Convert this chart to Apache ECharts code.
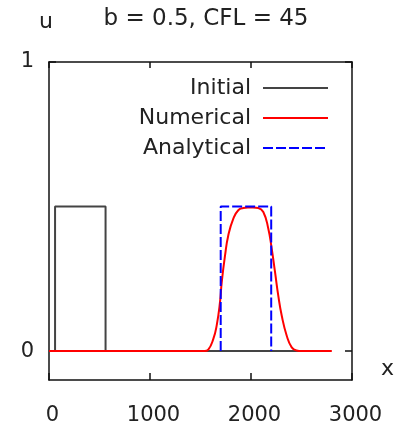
<!DOCTYPE html>
<html>
<head>
<meta charset="utf-8">
<script src="https://cdn.jsdelivr.net/npm/echarts@6/dist/echarts.min.js"></script>
<style>
  html, body { margin: 0; padding: 0; background: #fff; }
  #chart { width: 405px; height: 426px; }
</style>
</head>
<body>
<div id="chart"></div>
<script>
const seriesNames = ['Initial', 'Numerical', 'Analytical']

// initial square pulse
const initX = [0, 60, 60, 560, 560, 2500]
const initU = [0, 0, 0.5, 0.5, 0, 0]

// numerical solution
const numX = [0, 1540, 1577, 1627, 1660, 1693, 1710, 1743, 1775, 1825, 1874, 1924, 1970, 2020, 2072, 2122, 2171, 2205, 2238, 2270, 2304, 2353, 2403, 2452, 2500, 2800]
const numU = [0, 0, 0.005, 0.042, 0.088, 0.169, 0.238, 0.331, 0.4, 0.458, 0.487, 0.495, 0.497, 0.497, 0.495, 0.481, 0.424, 0.354, 0.273, 0.192, 0.123, 0.054, 0.013, 0.002, 0, 0]

// analytical (shifted pulse)
const anaX = [1700, 1700, 2200, 2200]
const anaU = [0, 0.5, 0.5, 0]

const xTicks = [0, 1000, 2000, 3000]
const yTicks = [0, 1]

const zip = (xs, ys) => xs.map((x, i) => [x, ys[i]])

const font = 'DejaVu Sans'
const axisColor = '#111'

const chart = echarts.init(document.getElementById('chart'))
const option = {
  animation: false,
  textStyle: { fontFamily: font },
  grid: { left: 49, top: 62, width: 303, height: 318 },
  title: {
    text: 'b = 0.5, CFL = 45',
    left: 201,
    textAlign: 'center',
    top: 3,
    textStyle: { fontFamily: font, fontSize: 23, fontWeight: 'normal', color: '#222' }
  },
  legend: {
    orient: 'vertical',
    align: 'right',
    right: 71,
    top: 72,
    itemWidth: 65,
    itemHeight: 14,
    itemGap: 8,
    data: seriesNames,
    itemStyle: { opacity: 0 },
    textStyle: { fontFamily: font, fontSize: 22, color: '#222', lineHeight: 22, padding: [0, 7, 0, 0] }
  },
  graphic: [
    { type: 'text', left: 39, top: 11, style: { text: 'u', font: '22px "DejaVu Sans"', fill: '#222' } },
    { type: 'text', left: 381, top: 358, style: { text: 'x', font: '22px "DejaVu Sans"', fill: '#222' } }
  ],
  xAxis: [
    {
      type: 'value', position: 'bottom', min: 0, max: 3000, interval: 1000,
      axisLine: { show: true, onZero: false, lineStyle: { color: axisColor, width: 1.5 } },
      axisTick: { show: true, inside: true, length: 7, lineStyle: { color: axisColor, width: 1.5 } },
      axisLabel: {
        customValues: xTicks, margin: 25, fontSize: 21, color: '#222', padding: [0, 0, 0, 7],
        formatter: (v) => String(v)
      },
      splitLine: { show: false }
    },
    {
      type: 'value', position: 'top', min: 0, max: 3000, interval: 1000,
      axisLine: { show: true, onZero: false, lineStyle: { color: axisColor, width: 1.5 } },
      axisTick: { show: true, inside: true, length: 6, lineStyle: { color: axisColor, width: 1.5 } },
      axisLabel: { show: false },
      splitLine: { show: false }
    }
  ],
  yAxis: [
    {
      type: 'value', position: 'left', min: -0.1, max: 1,
      axisLine: { show: true, onZero: false, lineStyle: { color: axisColor, width: 1.5 } },
      axisTick: { show: true, inside: true, length: 7, customValues: yTicks, lineStyle: { color: axisColor, width: 1.5 } },
      axisLabel: { customValues: yTicks, margin: 15, fontSize: 21, color: '#222' },
      splitLine: { show: false }
    },
    {
      type: 'value', position: 'right', min: -0.1, max: 1,
      axisLine: { show: true, onZero: false, lineStyle: { color: axisColor, width: 1.5 } },
      axisTick: { show: true, inside: true, length: 7, customValues: yTicks, lineStyle: { color: axisColor, width: 1.5 } },
      axisLabel: { show: false },
      splitLine: { show: false }
    }
  ],
  series: [
    {
      name: seriesNames[0], type: 'line', data: zip(initX, initU),
      symbol: 'none', lineStyle: { color: '#444', width: 2 }, itemStyle: { color: '#444' }
    },
    {
      name: seriesNames[1], type: 'line', data: zip(numX, numU),
      symbol: 'none', smooth: 0.5,
      lineStyle: { color: '#ff0000', width: 2 }, itemStyle: { color: '#ff0000' }
    },
    {
      name: seriesNames[2], type: 'line', data: zip(anaX, anaU),
      symbol: 'none', lineStyle: { color: '#0000ff', width: 2, type: [10, 3] }, itemStyle: { color: '#0000ff' }
    }
  ]
}
chart.setOption(option)
</script>
</body>
</html>
